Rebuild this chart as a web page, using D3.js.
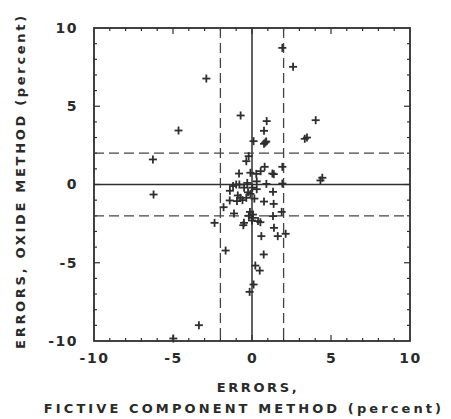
<!DOCTYPE html>
<html><head><meta charset="utf-8">
<script src="https://cdn.jsdelivr.net/npm/d3@7"></script>
<style>body{margin:0;background:#fff}svg{display:block}text{font-family:"DejaVu Sans",Arial,sans-serif;font-weight:bold;fill:#2a2a2a}</style>
</head><body>
<script>
const xTickLabels=[-10,-5,0,5,10];
const yTickLabels=[-10,-5,0,5,10];
const refSolid=[0];
const refDashed=[-2,2];
const xTitle1="ERRORS,";
const xTitle2="FICTIVE COMPONENT METHOD  (percent)";
const yTitle="ERRORS, OXIDE METHOD  (percent)";
const fictiveErr=[1.92,2.60,-2.89,-0.72,-4.65,4.03,0.93,0.76,3.34,3.48,0.76,0.84,0.9,0.1,-6.27,-0.21,-0.36,4.45,4.33,1.92,0.8,1.29,1.38,-0.82,-0.1,0.27,0.55,1.92,-6.23,-1.4,-1.2,-1.0,-0.8,1.33,0.76,1.37,-1.41,-0.95,-0.74,-0.6,-1.80,-1.14,-0.13,1.88,1.33,-2.37,-0.51,0.06,0.38,0.53,1.39,0.59,1.63,2.13,-1.67,0.74,0.21,0.49,0.1,-0.15,-3.36,-4.98,0.02,-0.25,-0.1,-0.36,0.06,-0.2,0.0,0.91,0.3,-0.5,0.3,-0.55,-0.9,-0.3,0.15];
const oxideErr=[8.73,7.52,6.77,4.41,3.45,4.11,4.05,3.43,2.92,3.0,2.6,2.68,2.75,2.77,1.6,1.81,1.49,0.43,0.26,1.13,1.13,0.70,0.66,0.70,0.75,0.68,0.85,0.06,-0.64,-0.4,-0.1,0.0,0.0,-0.47,-1.09,-1.24,-1.02,-1.06,-0.85,-1.0,-1.45,-1.85,-1.75,-1.75,-2.02,-2.45,-2.45,-2.13,-2.34,-2.41,-2.77,-3.30,-3.30,-3.15,-4.22,-4.47,-5.18,-5.50,-6.39,-6.86,-8.99,-9.84,-0.2,-0.5,-0.6,-0.85,-1.92,-2.0,-2.3,0.04,0.2,-0.2,-0.3,-2.6,-0.7,0.1,-0.9];

const W=451,H=419,L=94,R=410,T=28,B=341,ink="#2e2e2e";
const svg=d3.select("body").append("svg").attr("width",W).attr("height",H);
const x=d3.scaleLinear().domain([-10,10]).range([L,R]);
const y=d3.scaleLinear().domain([-10,10]).range([B,T]);
const g=svg.append("g");
g.append("rect").attr("x",L).attr("y",T).attr("width",R-L).attr("height",B-T).attr("fill","none").attr("stroke",ink).attr("stroke-width",1.8);
const ticks=d3.range(-9,10);
ticks.forEach(v=>{
  const len=v%5===0?6:3;
  g.append("line").attr("x1",x(v)).attr("x2",x(v)).attr("y1",B).attr("y2",B-len).attr("stroke",ink).attr("stroke-width",1.2);
  g.append("line").attr("x1",x(v)).attr("x2",x(v)).attr("y1",T).attr("y2",T+len).attr("stroke",ink).attr("stroke-width",1.2);
  g.append("line").attr("y1",y(v)).attr("y2",y(v)).attr("x1",L).attr("x2",L+len).attr("stroke",ink).attr("stroke-width",1.2);
  g.append("line").attr("y1",y(v)).attr("y2",y(v)).attr("x1",R).attr("x2",R-len).attr("stroke",ink).attr("stroke-width",1.2);
});
refSolid.forEach(v=>{
  g.append("line").attr("x1",x(v)).attr("x2",x(v)).attr("y1",T).attr("y2",B).attr("stroke",ink).attr("stroke-width",1.5);
  g.append("line").attr("x1",L).attr("x2",R).attr("y1",y(v)).attr("y2",y(v)).attr("stroke",ink).attr("stroke-width",1.5);
});
refDashed.forEach(v=>{
  g.append("line").attr("x1",x(v)).attr("x2",x(v)).attr("y1",T).attr("y2",B).attr("stroke","#444").attr("stroke-width",1.3).attr("stroke-dasharray","10,5");
  g.append("line").attr("x1",L).attr("x2",R).attr("y1",y(v)).attr("y2",y(v)).attr("stroke","#444").attr("stroke-width",1.3).attr("stroke-dasharray","10,5");
});
const fmt=d=>d<0?"-"+Math.abs(d):d;
const xa=d3.axisBottom(x).tickValues(xTickLabels).tickSize(0).tickPadding(0).tickFormat(fmt);
const xg=svg.append("g").attr("transform",`translate(0,${B+12})`).call(xa);
xg.select(".domain").remove();
xg.selectAll("text").attr("font-size",14).attr("dy","0.71em").style("font-family","DejaVu Sans, Arial").style("font-weight","bold").attr("fill","#2a2a2a").style("letter-spacing","1.5px");
const ya=d3.axisLeft(y).tickValues(yTickLabels).tickSize(0).tickPadding(0).tickFormat(fmt);
const yg=svg.append("g").attr("transform",`translate(${L-16},0)`).call(ya);
yg.select(".domain").remove();
yg.selectAll("text").attr("font-size",14).style("font-family","DejaVu Sans, Arial").style("font-weight","bold").attr("fill","#2a2a2a").style("letter-spacing","1.5px");
svg.append("text").attr("x",x(0)+6).attr("y",392).attr("text-anchor","middle").attr("font-size",13).style("letter-spacing","2.6px").text(xTitle1);
svg.append("text").attr("x",244).attr("y",413).attr("text-anchor","middle").attr("font-size",13).style("letter-spacing","3.1px").text(xTitle2);
svg.append("text").attr("transform",`translate(25,${181}) rotate(-90)`).attr("text-anchor","middle").attr("font-size",13).style("letter-spacing","2.7px").text(yTitle);
const pts=fictiveErr.map((v,i)=>[v,oxideErr[i]]);
const s=4;
const pg=svg.append("g").attr("stroke",ink).attr("stroke-width",1.8);
pts.forEach(([a,b])=>{
  const cx=x(a),cy=y(b);
  pg.append("line").attr("x1",cx-s).attr("x2",cx+s).attr("y1",cy).attr("y2",cy);
  pg.append("line").attr("x1",cx).attr("x2",cx).attr("y1",cy-s).attr("y2",cy+s);
});
</script>
</body></html>
